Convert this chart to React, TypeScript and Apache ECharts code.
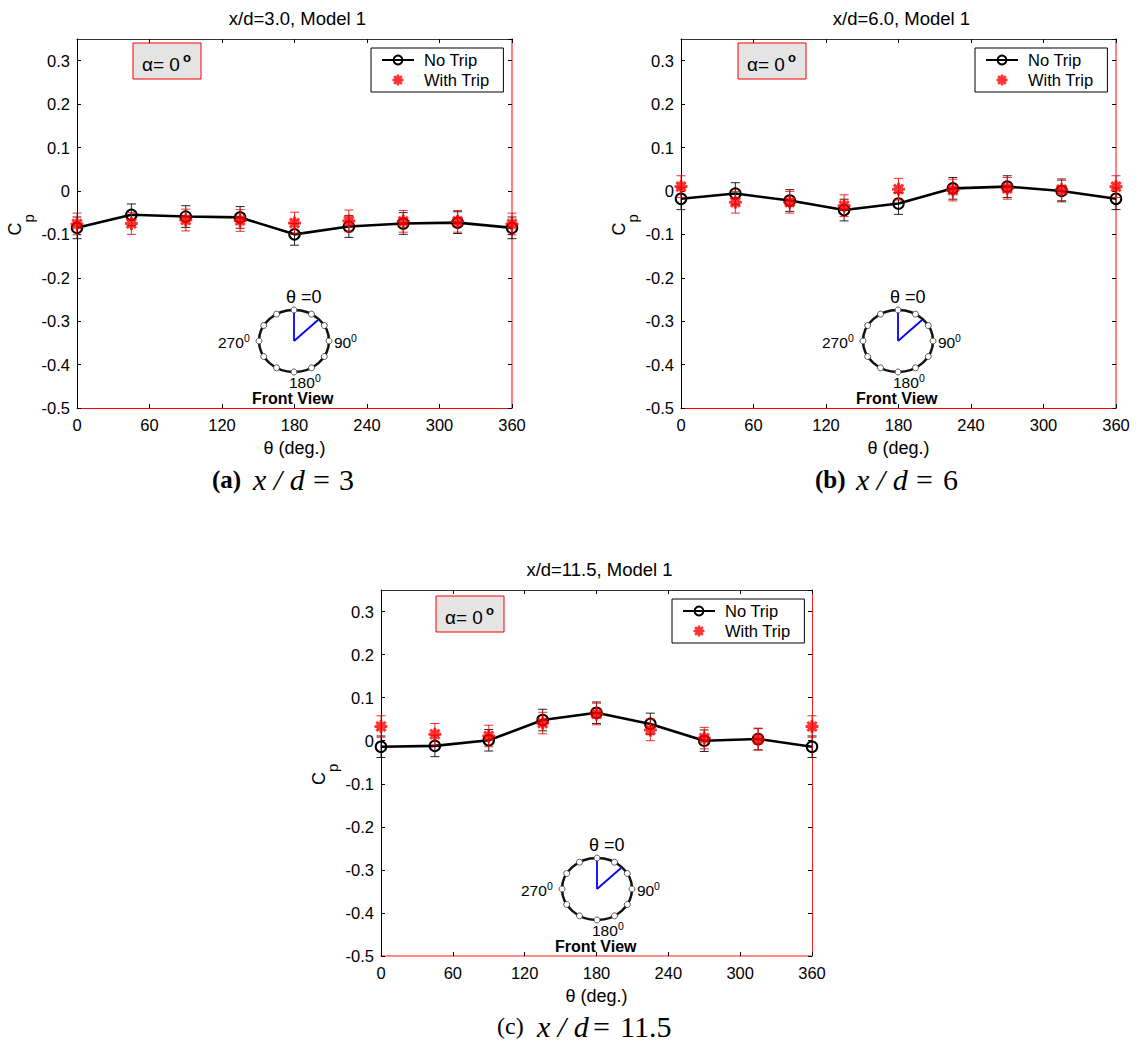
import React, { useEffect, useRef } from "react";
import * as echarts from "echarts";

const thetas = [0, 45, 90, 135, 180, 225, 270, 315, 360];
const noTripA = [-0.085, -0.055, -0.059, -0.061, -0.1, -0.082, -0.075, -0.073, -0.085];
const tripA = [-0.076, -0.075, -0.067, -0.068, -0.074, -0.069, -0.07, -0.07, -0.076];
const noTripB = [-0.018, -0.006, -0.022, -0.044, -0.029, 0.006, 0.01, 0.0, -0.018];
const tripB = [0.01, -0.026, -0.026, -0.034, 0.004, 0.002, 0.006, 0.003, 0.01];
const noTripC = [-0.014, -0.012, 0.001, 0.048, 0.065, 0.039, 0.0, 0.004, -0.014];
const tripC = [0.033, 0.015, 0.011, 0.041, 0.062, 0.025, 0.006, 0.003, 0.033];
const errorHalf = 0.025;
const titles = ["x/d=3.0, Model 1", "x/d=6.0, Model 1", "x/d=11.5, Model 1"];

const SANS = "Liberation Sans";
const SERIF = "Liberation Serif";
const RED = "#ff0000";

const STAR = "path://M-2 -10 L2 -10 L2.6 -6.2 L5.6 -8.6 L8.6 -5.6 L6.2 -2.6 L10 -2 L10 2 L6.2 2.6 L8.6 5.6 L5.6 8.6 L2.6 6.2 L2 10 L-2 10 L-2.6 6.2 L-5.6 8.6 L-8.6 5.6 L-6.2 2.6 L-10 2 L-10 -2 L-6.2 -2.6 L-8.6 -5.6 L-5.6 -8.6 L-2.6 -6.2 Z";

const panels = [
  { noTrip: noTripA, trip: tripA, left: 77, top: 39, width: 435, height: 369, sideColor: "#ff8080", sideWidth: 2, bottomColor: "#ff0000", bottomWidth: 1,
    alphaX: 133, alphaY: 43, legendX: 371, legendY: 48, cx: 294, cy: 341 },
  { noTrip: noTripB, trip: tripB, left: 681, top: 39, width: 435, height: 369, sideColor: "#ff8080", sideWidth: 2, bottomColor: "#ff0000", bottomWidth: 1,
    alphaX: 738, alphaY: 43, legendX: 975, legendY: 48, cx: 898, cy: 341 },
  { noTrip: noTripC, trip: tripC, left: 381, top: 590, width: 431, height: 366, sideColor: "#ff2020", sideWidth: 1, bottomColor: "#ff6060", bottomWidth: 1.5,
    alphaX: 436, alphaY: 596, legendX: 672, legendY: 599, cx: 597, cy: 889 },
];

const errorSeries = (values: number[], color: string, idx: number, z: number) => ({
  type: "custom",
  xAxisIndex: idx * 2,
  yAxisIndex: idx * 2,
  z,
  silent: true,
  clip: false,
  data: thetas.map((t, i) => [t, values[i]]),
  renderItem: (_: any, api: any) => {
    const x = api.value(0);
    const y = api.value(1);
    const hi = api.coord([x, y + errorHalf]);
    const lo = api.coord([x, y - errorHalf]);
    const st = { stroke: color, lineWidth: 1, opacity: 0.85 };
    const cap = 4.5;
    return {
      type: "group",
      children: [
        { type: "line", shape: { x1: hi[0], y1: hi[1], x2: lo[0], y2: lo[1] }, style: st },
        { type: "line", shape: { x1: hi[0] - cap, y1: hi[1], x2: hi[0] + cap, y2: hi[1] }, style: st },
        { type: "line", shape: { x1: lo[0] - cap, y1: lo[1], x2: lo[0] + cap, y2: lo[1] }, style: st },
      ],
    };
  },
});

const txt = (x: number, y: number, text: string, fontSize: number, extra: any = {}, rotation = 0) => ({
  type: "text",
  x,
  y,
  z: 20,
  rotation,
  style: { text, fontSize, fontFamily: SANS, fill: "#000", align: "left", verticalAlign: "middle", ...extra },
});

const inset = (cx: number, cy: number) => {
  const rx = 35;
  const ry = 31;
  const dots = Array.from({ length: 12 }, (_, i) => {
    const a = (i * Math.PI) / 6;
    return {
      type: "circle",
      z: 21,
      shape: { cx: cx + rx * Math.sin(a), cy: cy - ry * Math.cos(a), r: 3 },
      style: { fill: "#fff", stroke: "#333", lineWidth: 0.8 },
    };
  });
  return [
    { type: "ellipse", z: 20, shape: { cx, cy, rx, ry }, style: { fill: "none", stroke: "#111", lineWidth: 2.5 } },
    { type: "line", z: 20, shape: { x1: cx, y1: cy, x2: cx, y2: cy - ry }, style: { stroke: "#0000ff", lineWidth: 1.8 } },
    { type: "line", z: 20, shape: { x1: cx, y1: cy, x2: cx + 24, y2: cy - 21 }, style: { stroke: "#0000ff", lineWidth: 1.8 } },
    ...dots,
    txt(cx - 8, cy - 44, "θ =0", 18),
    txt(cx - 76, cy + 1, "270", 15.5),
    txt(cx - 50, cy - 3.5, "0", 10.5),
    txt(cx + 40, cy + 1, "90", 15.5),
    txt(cx + 57, cy - 3.5, "0", 10.5),
    txt(cx - 5, cy + 41, "180", 15.5),
    txt(cx + 21, cy + 37, "0", 10.5),
    txt(cx - 42, cy + 57, "Front View", 16, { fontWeight: "bold" }),
  ];
};

const alphaBox = (x: number, y: number) => [
  { type: "rect", z: 20, shape: { x, y, width: 68, height: 36 }, style: { fill: "#e4e4e4", stroke: RED, lineWidth: 1 } },
  txt(x + 9, y + 21, "α= 0", 19),
  txt(x + 50, y + 14, "o", 13, { fontWeight: "bold" }),
];

const caption = (x: number, y: number, label: string, bold: boolean, xdX: number, eqX: number, numX: number, num: string) => [
  txt(x, y, label, bold ? 25 : 24, { fontFamily: SERIF, fontWeight: bold ? "bold" : "normal" }),
  txt(xdX, y, "x / d", 30, { fontFamily: SERIF, fontStyle: "italic" }),
  txt(eqX, y, "=", 30, { fontFamily: SERIF }),
  txt(numX, y, num, 30, { fontFamily: SERIF }),
];

export default function App() {
  const ref = useRef<HTMLDivElement>(null);
  useEffect(() => {
    const chart = echarts.init(ref.current!, undefined, { renderer: "svg" });
    const grid: any[] = [];
    const xAxis: any[] = [];
    const yAxis: any[] = [];
    const series: any[] = [];
    const graphicEls: any[] = [];
    const title: any[] = [];
    const legend: any[] = [];

    panels.forEach((p, i) => {
      grid.push({ left: p.left, top: p.top, width: p.width, height: p.height });
      grid.push({ left: p.left, top: p.top, width: p.width, height: p.height });
      const gi = i * 2;
      xAxis.push({
        gridIndex: gi, type: "value", min: 0, max: 360, interval: 60, position: "bottom",
        name: "θ (deg.)", nameLocation: "middle", nameGap: 31,
        nameTextStyle: { fontFamily: SANS, fontSize: 18, color: "#000" },
        axisLine: { show: true, onZero: false, lineStyle: { color: p.bottomColor, width: p.bottomWidth } },
        axisTick: { show: true, inside: true, length: 4, lineStyle: { color: "#000" } },
        axisLabel: { fontFamily: SANS, fontSize: 16.5, color: "#000", margin: 8 },
        splitLine: { show: false },
      });
      xAxis.push({
        gridIndex: gi + 1, type: "value", min: 0, max: 360, interval: 60, position: "top",
        axisLine: { show: true, onZero: false, lineStyle: { color: "#333", width: 1.2 } },
        axisTick: { show: true, inside: true, length: 4, lineStyle: { color: "#000" } },
        axisLabel: { show: false }, splitLine: { show: false },
      });
      yAxis.push({
        gridIndex: gi, type: "value", min: -0.5, max: 0.35, interval: 0.1, position: "left",
        axisLine: { show: true, onZero: false, lineStyle: { color: "#000", width: 1 } },
        axisTick: { show: true, inside: true, length: 4, lineStyle: { color: "#000" } },
        axisLabel: {
          fontFamily: SANS, fontSize: 16.5, color: "#000", margin: 7, showMaxLabel: false,
          formatter: (v: number) => (Math.abs(v) < 1e-9 ? "0" : v.toFixed(1)),
        },
        splitLine: { show: false },
      });
      yAxis.push({
        gridIndex: gi + 1, type: "value", min: -0.5, max: 0.35, interval: 0.1, position: "right",
        axisLine: { show: true, onZero: false, lineStyle: { color: p.sideColor, width: p.sideWidth } },
        axisTick: { show: true, inside: true, length: 4, lineStyle: { color: "#000" } },
        axisLabel: { show: false }, splitLine: { show: false },
      });
      series.push(errorSeries(p.noTrip, "#000", i, 3));
      series.push({
        type: "line", name: "No Trip", xAxisIndex: gi, yAxisIndex: gi, clip: false, z: 4,
        data: thetas.map((t, k) => [t, p.noTrip[k]]),
        symbol: "circle", symbolSize: 10.5, showSymbol: true,
        lineStyle: { color: "#000", width: 2.6 },
        itemStyle: { color: "rgba(255,255,255,0)", borderColor: "#000", borderWidth: 2 },
      });
      series.push(errorSeries(p.trip, RED, i, 5));
      series.push({
        type: "scatter", name: "With Trip", xAxisIndex: gi, yAxisIndex: gi, clip: false, z: 6,
        data: thetas.map((t, k) => [t, p.trip[k]]),
        symbol: STAR, symbolSize: 13,
        itemStyle: { color: RED },
      });
      title.push({
        text: titles[i], left: p.left + p.width / 2 - 2, top: p.top - 35, textAlign: "center",
        textStyle: { fontFamily: SANS, fontSize: 18.5, fontWeight: "normal", color: "#000" },
      });
      legend.push({
        left: p.legendX, top: p.legendY, orient: "vertical", align: "left",
        data: ["No Trip", "With Trip"], itemWidth: 32, itemHeight: 11, itemGap: 3,
        padding: [3.5, 14, 3.5, 10], selectedMode: false,
        backgroundColor: "#fff", borderColor: "#000", borderWidth: 1,
        textStyle: { fontFamily: SANS, fontSize: 16.5, color: "#000", padding: [0, 0, 0, 5] }, z: 25,
      });
      graphicEls.push(
        txt(p.left - 62, p.top + p.height / 2 + 12, "C", 18, {}, Math.PI / 2),
        txt(p.left - 49, p.top + p.height / 2 - 1, "p", 15, {}, Math.PI / 2),
        ...alphaBox(p.alphaX, p.alphaY),
        ...inset(p.cx, p.cy),
      );
    });

    graphicEls.push(
      ...caption(212, 479, "(a)", true, 253, 313, 339, "3"),
      ...caption(815, 479, "(b)", true, 856, 916, 943, "6"),
      ...caption(497, 1026, "(c)", false, 537, 593, 620, "11.5"),
    );

    chart.setOption({
      animation: false,
      backgroundColor: "#fff",
      grid, xAxis, yAxis, series, title, legend,
      graphic: { elements: graphicEls },
    });
    return () => chart.dispose();
  }, []);
  return <div ref={ref} style={{ position: "absolute", left: 0, top: 0, width: 1142, height: 1043 }} />;
}
